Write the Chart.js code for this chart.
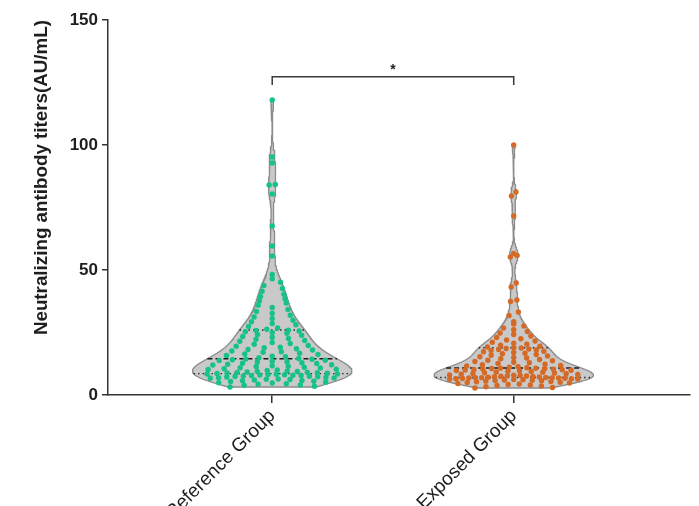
<!DOCTYPE html>
<html>
<head>
<meta charset="utf-8">
<script src="https://cdn.jsdelivr.net/npm/chart.js@4.4.1/dist/chart.umd.min.js"></script>
<style>
  html, body { margin: 0; padding: 0; background: #ffffff; }
  #wrap { width: 699px; height: 506px; }
</style>
</head>
<body>
<div id="wrap"><canvas id="chart" width="699" height="506"></canvas></div>
<script>
// ---- data ----
const groupNames = ['Reference Group', 'Exposed Group'];
const yAxisTitle = 'Neutralizing antibody titers(AU/mL)';
const yTickValues = [0, 50, 100, 150];
const significanceLabel = '*';

const referenceTiters = [
  3.2, 3.5, 3.9, 4.0, 4.3, 4.5, 4.8, 4.9, 5.1, 5.4, 5.5, 5.7, 5.8, 6.0, 6.2, 6.3, 6.4, 6.7, 6.8, 6.9,
  7.0, 7.2, 7.3, 7.4, 7.5, 7.6, 7.8, 7.8, 7.9, 8.0, 8.1, 8.2, 8.3, 8.4, 8.4,
  8.6, 8.7, 8.8, 8.9, 9.0, 9.1, 9.2, 9.4, 9.5, 9.6, 9.8, 10.0, 10.2, 10.3, 10.5, 10.8, 10.9, 11.1,
  11.4, 11.5, 11.7, 12.0, 12.1, 12.3, 12.6, 12.7, 12.9, 13.2, 13.3, 13.5, 13.8, 13.9, 14.1, 14.3, 14.4,
  14.6, 14.9, 15.3, 15.5, 15.8, 16.2, 16.4, 16.7, 17.1, 17.3, 17.6, 18.0, 18.2, 18.5, 18.9, 19.1,
  19.5, 19.8, 20.3, 20.6, 21.0, 21.5, 21.8, 22.3, 22.6, 23.1, 23.4, 23.9, 24.2, 24.7, 25.0, 25.3,
  25.6, 25.8, 25.9,
  26.3, 26.8, 27.4, 28.1, 28.6, 29.3, 29.9, 30.6, 31.2, 31.9, 32.7, 33.4, 34.2, 35.0, 35.9, 36.8,
  37.6, 38.5, 39.4, 40.3, 41.5, 42.6, 43.8, 45.1, 46.5, 48.2,
  55.6, 59.6, 67.6, 80.4, 84.0, 84.2, 92.8, 95.2, 118.0
];

const exposedTiters = [
  2.8, 3.0, 3.3, 3.6, 3.8, 4.0, 4.2, 4.4, 4.6, 4.8, 5.0, 5.1, 5.3, 5.4, 5.5, 5.7, 5.8, 5.9, 6.0, 6.1,
  6.2, 6.3, 6.4, 6.5, 6.5, 6.6, 6.7, 6.8, 6.8, 6.9, 6.9, 6.95,
  7.0, 7.1, 7.2, 7.3, 7.4, 7.5, 7.6, 7.7, 7.8, 7.9, 8.0, 8.2, 8.3, 8.5, 8.6, 8.8, 8.9, 9.1, 9.2,
  9.4, 9.5, 9.7, 9.8, 9.9, 10.0, 10.1, 10.2, 10.3, 10.4, 10.5, 10.6, 10.7, 10.75,
  10.9, 11.1, 11.3, 11.6, 11.8, 12.1, 12.3, 12.6, 12.9, 13.1, 13.4, 13.7, 13.9, 14.2, 14.5, 14.8,
  15.0, 15.3, 15.6, 15.9, 16.2, 16.5, 16.7, 17.0, 17.3, 17.5, 17.8, 18.0, 18.2, 18.4, 18.6, 18.8, 18.9,
  19.2, 19.5, 19.9, 20.3, 20.7, 21.1, 21.6, 22.0, 22.5, 23.0, 23.6, 24.2, 24.8, 25.4, 26.1, 26.8,
  27.6, 28.4, 29.3,
  31.8, 33.2, 37.4, 38.0, 43.2, 44.8, 55.2, 55.8, 56.6, 71.6, 79.6, 81.2, 100.0
];

const pointColors = ['#16c288', '#d56a26'];

// ---- violin geometry (kernel density) ----
const MAX_HALF_WIDTH = 0.33;   // x-units at the widest point of each violin
const ROW_HEIGHT = 1.7;        // y-units grouped into one row of dots

function quantile(sorted, p) {
  const pos = (sorted.length - 1) * p;
  const lo = Math.floor(pos), hi = Math.ceil(pos);
  return sorted[lo] + (sorted[hi] - sorted[lo]) * (pos - lo);
}

function makeViolin(values, center) {
  const s = [...values].sort((a, b) => a - b);
  const n = s.length;
  const mean = s.reduce((a, b) => a + b, 0) / n;
  const sd = Math.sqrt(s.reduce((a, v) => a + (v - mean) ** 2, 0) / (n - 1));
  const iqr = quantile(s, 0.75) - quantile(s, 0.25);
  const h = 0.9 * Math.min(sd, iqr / 1.34) * Math.pow(n, -0.2);
  const dens = y => s.reduce((acc, v) => acc + Math.exp(-0.5 * ((y - v) / h) ** 2), 0);
  const lo = s[0], hi = s[n - 1];
  const ys = [];
  for (let y = lo; y < hi; y += 0.25) ys.push(y);
  ys.push(hi);
  const d = ys.map(dens);
  const dMax = Math.max(...d);
  const half = y => MAX_HALF_WIDTH * dens(y) / dMax;

  const outline = [];
  ys.forEach((y, i) => outline.push({ x: center + MAX_HALF_WIDTH * d[i] / dMax, y }));
  for (let i = ys.length - 1; i >= 0; i--) outline.push({ x: center - MAX_HALF_WIDTH * d[i] / dMax, y: ys[i] });
  outline.push({ x: outline[0].x, y: outline[0].y });

  const seg = (q) => [{ x: center - half(q), y: q }, { x: center + half(q), y: q }];
  const median = seg(quantile(s, 0.5));
  const q1 = seg(quantile(s, 0.25));
  const q3 = seg(quantile(s, 0.75));

  // spread the dots of each row across the violin width at that level
  const dots = [];
  let row = [];
  const flush = () => {
    if (!row.length) return;
    const m = row.length;
    const yc = row.reduce((a, b) => a + b, 0) / m;
    const w = half(yc) * 0.82;
    const order = [];
    for (let k = 0; k < m; k++) order.push(k % 2 === 0 ? k / 2 : m - 1 - (k - 1) / 2);
    row.forEach((v, k) => {
      const slot = order[k];
      const off = m === 1 ? 0 : -w + (2 * w) * slot / (m - 1);
      dots.push({ x: center + off, y: v });
    });
    row = [];
  };
  s.forEach(v => {
    if (row.length && v - row[0] > ROW_HEIGHT) flush();
    row.push(v);
  });
  flush();

  return { outline, median, q1, q3, dots };
}

const violins = [makeViolin(referenceTiters, 0), makeViolin(exposedTiters, 1)];

const datasets = [];
violins.forEach((v, i) => {
  datasets.push({
    data: v.outline, showLine: true, fill: 'shape', tension: 0,
    backgroundColor: '#c9c9c9', borderColor: '#8c8c8c', borderWidth: 1.3,
    pointRadius: 0, order: 4
  });
  datasets.push({
    data: v.median, showLine: true, fill: false, borderColor: '#1a1a1a',
    borderWidth: 1.6, borderDash: [5, 3], pointRadius: 0, order: 3
  });
  [v.q1, v.q3].forEach(q => datasets.push({
    data: q, showLine: true, fill: false, borderColor: '#2a2a2a',
    borderWidth: 1.4, borderDash: [1.5, 3], pointRadius: 0, order: 3
  }));
  datasets.push({
    data: v.dots, showLine: false, backgroundColor: pointColors[i],
    borderWidth: 0, pointRadius: 2.7, order: 1
  });
});

// significance bracket between the two groups
datasets.push({
  data: [{ x: 0, y: 124 }, { x: 0, y: 127.3 }, { x: 1, y: 127.3 }, { x: 1, y: 124 }],
  showLine: true, fill: false, borderColor: '#3a3a3a', borderWidth: 1.5,
  pointRadius: 0, order: 2
});

const starPlugin = {
  id: 'starLabel',
  afterDatasetsDraw(chart) {
    const { ctx, scales } = chart;
    ctx.save();
    ctx.fillStyle = '#222';
    ctx.font = 'bold 14px "Liberation Sans", Arial, sans-serif';
    ctx.textAlign = 'center';
    ctx.textBaseline = 'middle';
    ctx.fillText(significanceLabel, scales.x.getPixelForValue(0.5), scales.y.getPixelForValue(129.8));
    ctx.restore();
  }
};

new Chart(document.getElementById('chart'), {
  type: 'scatter',
  data: { datasets },
  options: {
    responsive: false,
    animation: false,
    layout: { padding: { top: 20, right: 9, bottom: 0, left: 0 } },
    plugins: { legend: { display: false }, tooltip: { enabled: false } },
    scales: {
      x: {
        type: 'linear',
        min: -0.68, max: 1.73,
        afterBuildTicks: s => { s.ticks = groupNames.map((_, i) => ({ value: i })); },
        afterFit: s => { s.height = 111; },
        grid: { drawOnChartArea: false, drawTicks: true, tickLength: 8, color: '#333', lineWidth: 1.5 },
        border: { display: true, color: '#333', width: 1.5 },
        ticks: {
          autoSkip: false, minRotation: 45, maxRotation: 45, padding: 2,
          color: '#1e1e1e',
          font: { family: '"Liberation Sans", Arial, sans-serif', size: 19 },
          callback: v => groupNames[v] ?? ''
        }
      },
      y: {
        min: 0, max: 150,
        afterBuildTicks: s => { s.ticks = yTickValues.map(v => ({ value: v })); },
        afterFit: s => { s.width = 108; },
        grid: { drawOnChartArea: false, drawTicks: true, tickLength: 6, color: '#333', lineWidth: 1.5 },
        border: { display: true, color: '#333', width: 1.5 },
        ticks: {
          padding: 4, color: '#1e1e1e',
          font: { family: '"Liberation Sans", Arial, sans-serif', size: 17, weight: 'bold' }
        },
        title: {
          display: true, text: yAxisTitle, align: 'end', color: '#1e1e1e',
          padding: { top: 31, bottom: 0 },
          font: { family: '"Liberation Sans", Arial, sans-serif', size: 18.8, weight: 'bold' }
        }
      }
    }
  },
  plugins: [starPlugin]
});
</script>
</body>
</html>
